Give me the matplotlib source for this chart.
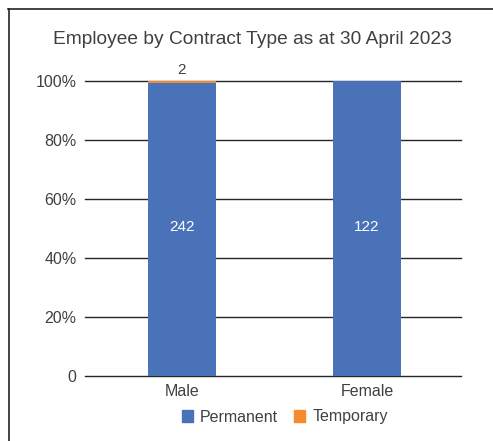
import matplotlib.pyplot as plt
from matplotlib.lines import Line2D
from matplotlib.patches import Patch
import numpy as np

categories = ['Male', 'Female']
permanent = [242, 122]
temporary = [2, 0]
series_names = ['Permanent', 'Temporary']

plt.rcParams['font.family'] = ['Liberation Sans', 'DejaVu Sans']
text_color = '#404040'
blue = '#4A72B8'
orange = '#F58A2F'

perm = np.array(permanent, dtype=float)
temp = np.array(temporary, dtype=float)
total = perm + temp
perm_pct = perm / total * 100
temp_pct = temp / total * 100

fig = plt.figure(figsize=(4.93, 4.41), dpi=100)
ax = fig.add_axes([0.1724, 0.1474, 0.7627, 0.669])

x = np.arange(len(categories))
width = 0.368
ax.bar(x, perm_pct, width, color=blue, label=series_names[0], zorder=3)
ax.bar(x, temp_pct, width, bottom=perm_pct, color=orange, label=series_names[1], zorder=3)

# value labels
for i in range(len(categories)):
    ax.text(x[i], 50.5, str(permanent[i]), ha='center', va='center',
            color='white', fontsize=11, zorder=4)
    if temporary[i] > 0:
        ax.text(x[i], 100 + 1.2, str(temporary[i]), ha='center', va='bottom',
                color=text_color, fontsize=11, zorder=4)

ax.set_xlim(-0.524, 1.508)
ax.set_ylim(0, 100)
ax.set_yticks([0, 20, 40, 60, 80, 100])
ax.set_yticklabels(['0', '20%', '40%', '60%', '80%', '100%'])
ax.set_xticks(x)
ax.set_xticklabels(categories)
ax.tick_params(axis='both', length=0, labelsize=11.5, colors=text_color)
ax.tick_params(axis='y', pad=6)
ax.tick_params(axis='x', pad=6)
ax.yaxis.grid(True, color='#262626', linewidth=1.0, zorder=0)
ax.set_axisbelow(True)
for s in ax.spines.values():
    s.set_visible(False)
for gl in ax.yaxis.get_gridlines():
    gl.set_clip_on(False)

fig.text(252 / 493, 1 - 40 / 441, 'Employee by Contract Type as at 30 April 2023',
         ha='center', va='center', fontsize=13.8, color=text_color)

handles = [Patch(color=blue), Patch(color=orange)]
fig.legend(handles, series_names, loc='center', bbox_to_anchor=(285 / 493, 1 - 417 / 441),
           ncol=2, frameon=False, fontsize=11.5, handlelength=0.7, handleheight=0.7,
           handletextpad=0.45, columnspacing=1.0, labelcolor=text_color)

# outer frame (top and left edges)
fig.add_artist(Line2D([8 / 493, 1], [1 - 9 / 441, 1 - 9 / 441], color='#222222', linewidth=1.2))
fig.add_artist(Line2D([9 / 493, 9 / 493], [0, 1 - 9 / 441], color='#222222', linewidth=1.2))

fig.savefig('out.png', dpi=100)
